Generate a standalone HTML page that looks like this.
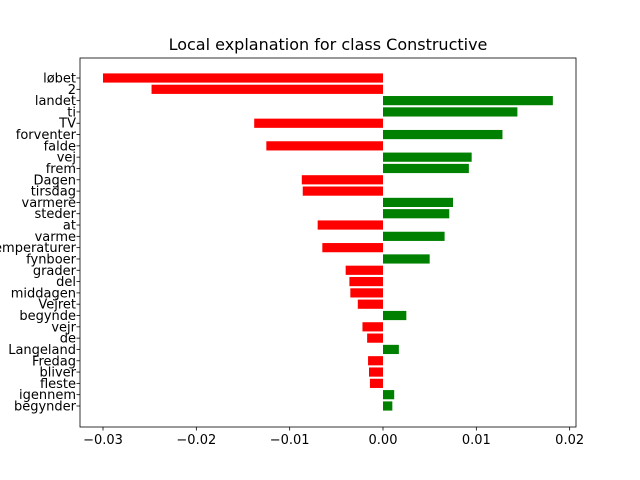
<!DOCTYPE html>
<html><head><meta charset="utf-8"><style>
body{margin:0;background:#fff}
svg{display:block;font-family:"DejaVu Sans","Liberation Sans",sans-serif}
</style></head><body>
<svg id="chart" width="640" height="480">
<text x="328" y="50" text-anchor="middle" font-size="16">Local explanation for class Constructive</text>
</svg>
<script>
const categories=["løbet","2","landet","ti","TV","forventer","falde","vej","frem","Dagen","tirsdag","varmere","steder","at","varme","temperaturer","fynboer","grader","del","middagen","Vejret","begynde","vejr","de","Langeland","Fredag","bliver","fleste","igennem","begynder"];
const values=[-0.030,-0.0248,0.0182,0.0144,-0.0138,0.0128,-0.0125,0.0095,0.0092,-0.0087,-0.0086,0.0075,0.0071,-0.0070,0.0066,-0.0065,0.0050,-0.0040,-0.0036,-0.0035,-0.0027,0.0025,-0.0022,-0.0017,0.0017,-0.0016,-0.0015,-0.0014,0.0012,0.0010];
const tickValues=[-0.03,-0.02,-0.01,0.00,0.01,0.02];
const tickLabels=["−0.03","−0.02","−0.01","0.00","0.01","0.02"];
const NS="http://www.w3.org/2000/svg";
const svg=document.getElementById('chart');
const L=80,R=576,T=58,B=427;
const xs=v=>383+v*9333;
const step=(B-T)/(categories.length+2.6);
const ys=i=>78+i*11.31;
function el(tag,attrs){const e=document.createElementNS(NS,tag);for(const k in attrs)e.setAttribute(k,attrs[k]);svg.appendChild(e);return e;}
categories.forEach((c,i)=>{
  const v=values[i];const x0=xs(0),x1=xs(v);
  const r=el('rect',{x:Math.min(x0,x1),y:ys(i)-4.6,width:Math.abs(x1-x0),height:9.2,fill:v<0?'#ff0000':'#008000'});
  
  
  const t=el('text',{x:L-4,y:ys(i)+4.5,'text-anchor':'end','font-size':13});
  t.textContent=c;
  
  
  el('line',{x1:L-3.5,x2:L,y1:ys(i),y2:ys(i),stroke:'#000','stroke-width':0.8});
});
tickValues.forEach((v,i)=>{
  const x=xs(v);
  el('line',{x1:x,x2:x,y1:B,y2:B+3.5,stroke:'#000','stroke-width':0.8});
  const t=el('text',{x:x,y:B+17,'text-anchor':'middle','font-size':13});
  t.textContent=tickLabels[i];
  
  
});
const f=el('rect',{x:L,y:T,width:R-L,height:B-T,fill:'none',stroke:'#000','stroke-width':0.8});


</script>
</body></html>
